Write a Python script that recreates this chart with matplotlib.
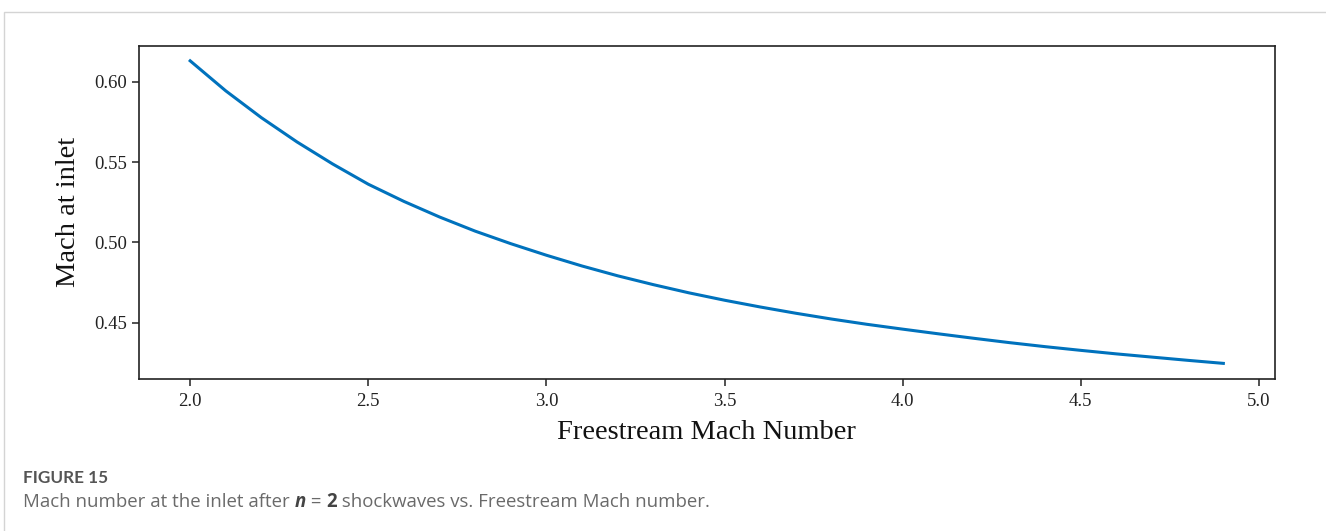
import matplotlib.pyplot as plt
from matplotlib.patches import Rectangle

# freestream Mach number and resulting Mach number at the inlet (n = 2 shocks)
mach_free = [2.0, 2.1, 2.2, 2.3, 2.4, 2.5, 2.6, 2.7, 2.8, 2.9,
             3.0, 3.1, 3.2, 3.3, 3.4, 3.5, 3.6, 3.7, 3.8, 3.9,
             4.0, 4.1, 4.2, 4.3, 4.4, 4.5, 4.6, 4.7, 4.8, 4.9]
mach_inlet = [0.6130, 0.5943, 0.5776, 0.5625, 0.5488, 0.5362, 0.5255, 0.5158, 0.5070, 0.4992,
              0.4920, 0.4853, 0.4792, 0.4737, 0.4686, 0.4640, 0.4598, 0.4559, 0.4523, 0.4490,
              0.4460, 0.4431, 0.4403, 0.4376, 0.4351, 0.4328, 0.4306, 0.4286, 0.4266, 0.4247]

SERIF = ['Liberation Serif', 'DejaVu Serif']
CAPTION_HEAD = ['Lato', 'DejaVu Sans']
CAPTION_FONT = ['Open Sans', 'DejaVu Sans']

fig = plt.figure(figsize=(13.26, 5.31), dpi=100)

# thin frame round the figure panel
fig.patches.append(Rectangle((4 / 1326, -0.1), 1.2, 1 - 12 / 531 + 0.1,
                             transform=fig.transFigure, fill=False,
                             edgecolor='#d4d4d4', linewidth=1.0))

ax = fig.add_axes([138.5 / 1326, 1 - 378.5 / 531, (1275 - 138.5) / 1326, (378.5 - 45.7) / 531])
ax.plot(mach_free, mach_inlet, color='#0072bd', linewidth=2.2, solid_joinstyle='round')

ax.set_yticks([0.45, 0.50, 0.55, 0.60])
ax.set_yticklabels(['0.45', '0.50', '0.55', '0.60'])
ax.set_xticks([2.0, 2.5, 3.0, 3.5, 4.0, 4.5, 5.0])
ax.set_xticklabels(['2.0', '2.5', '3.0', '3.5', '4.0', '4.5', '5.0'])
for lab in ax.get_xticklabels() + ax.get_yticklabels():
    lab.set_family(SERIF)
    lab.set_fontsize(13.5)
    lab.set_color('#222222')
ax.tick_params(direction='out', length=5, width=1.1, color='#222222')
ax.tick_params(axis='x', pad=5.5)
for sp in ax.spines.values():
    sp.set_linewidth(1.2)
    sp.set_color('#222222')

ax.set_xlabel('Freestream Mach Number', family=SERIF, fontsize=20.5, color='#111111', labelpad=7)
ax.set_ylabel('Mach at inlet', family=SERIF, fontsize=20.5, color='#111111', labelpad=9)

# caption below the chart
fig.text(23 / 1326, 1 - 478 / 531, 'FIGURE 15', family=CAPTION_HEAD, fontsize=12.3,
         fontweight='bold', color='#555555', va='center')

chunks = [('Mach number at the inlet after ', 'normal', 'normal', '#6a6a6a'),
          ('n', 'bold', 'italic', '#444444'),
          (' = ', 'normal', 'normal', '#6a6a6a'),
          ('2', 'bold', 'normal', '#444444'),
          (' shockwaves vs. Freestream Mach number.', 'normal', 'normal', '#6a6a6a')]
fig.canvas.draw()
renderer = fig.canvas.get_renderer()
x_px = 23
for txt, w, st, c in chunks:
    t = fig.text(x_px / 1326, 1 - 507 / 531, txt, family=CAPTION_FONT, fontsize=13.4,
                 fontweight=w, style=st, color=c, va='baseline')
    x_px += t.get_window_extent(renderer).width

plt.savefig('out.png', dpi=100)
